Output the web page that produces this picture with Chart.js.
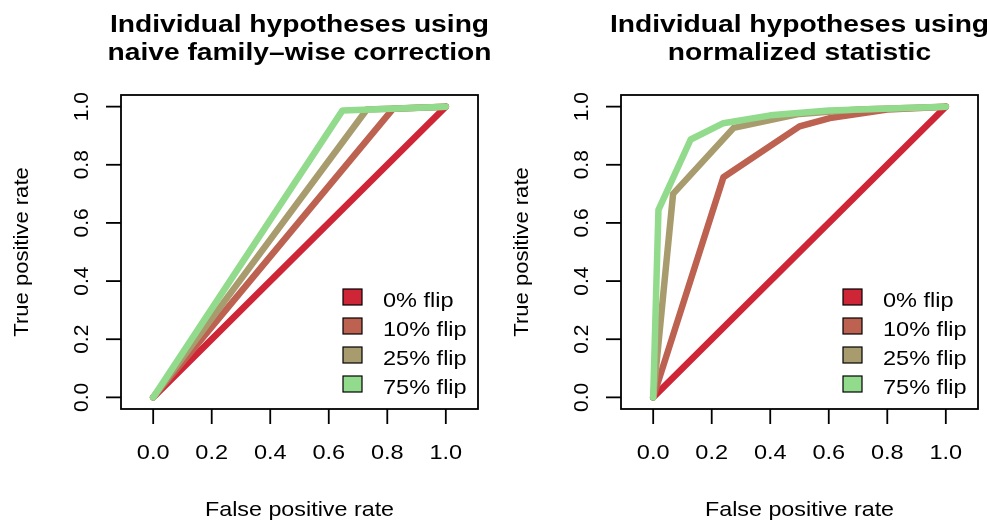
<!DOCTYPE html>
<html>
<head>
<meta charset="utf-8">
<script src="https://cdn.jsdelivr.net/npm/chart.js@4.4.1/dist/chart.umd.min.js"></script>
<style>
  html, body { margin: 0; padding: 0; background: #fff; overflow: hidden; }
  #wrap { position: relative; width: 987px; height: 522px; }
  canvas { position: absolute; top: 0; }
</style>
</head>
<body>
<div id="wrap">
  <canvas id="left" width="500" height="522" style="left:0"></canvas>
  <canvas id="right" width="487" height="522" style="left:500px"></canvas>
</div>
<script>
const seriesLabels = ["0% flip", "10% flip", "25% flip", "75% flip"];
const seriesColors = ["#CF2637", "#BD6151", "#A89C6E", "#92DB8D"];
const tickValues = [0, 0.2, 0.4, 0.6, 0.8, 1.0];
const tickLabels = ["0.0", "0.2", "0.4", "0.6", "0.8", "1.0"];

// left panel: naive family-wise correction
const naive0Fpr = [0, 1];
const naive0Tpr = [0, 1];
const naive10Fpr = [0, 0.82, 1];
const naive10Tpr = [0, 0.993, 1];
const naive25Fpr = [0, 0.73, 1];
const naive25Tpr = [0, 0.99, 1];
const naive75Fpr = [0, 0.647, 1];
const naive75Tpr = [0, 0.987, 1];

// right panel: normalized statistic
const norm0Fpr = [0, 1];
const norm0Tpr = [0, 1];
const norm10Fpr = [0, 0.24, 0.5, 0.61, 0.8, 1];
const norm10Tpr = [0, 0.757, 0.932, 0.962, 0.99, 1];
const norm25Fpr = [0, 0.068, 0.275, 0.5, 0.7, 1];
const norm25Tpr = [0, 0.70, 0.927, 0.975, 0.99, 1];
const norm75Fpr = [0, 0.018, 0.128, 0.24, 0.4, 0.6, 1];
const norm75Tpr = [0, 0.645, 0.887, 0.943, 0.97, 0.987, 1];

const FONT = "'Liberation Sans', Arial, Helvetica, sans-serif";

// text with a horizontal stretch (the original png is a bit wider than tall)
function stretchText(ctx, text, x, y, sx, angle) {
  ctx.save();
  ctx.translate(x, y);
  if (angle) ctx.rotate(angle);
  ctx.scale(sx, 1);
  ctx.fillText(text, 0, 0);
  ctx.restore();
}

// base-R look: box, outside ticks, rotated y labels, legend inside
const rStyle = {
  id: "rStyle",
  afterDraw(chart, args, opts) {
    const ctx = chart.ctx;
    const a = chart.chartArea;
    const xs = chart.scales.x, ys = chart.scales.y;
    ctx.save();
    ctx.strokeStyle = "#000";
    ctx.fillStyle = "#000";
    ctx.lineWidth = 1.8;
    ctx.strokeRect(a.left, a.top, a.right - a.left, a.bottom - a.top);

    ctx.font = "21px " + FONT;
    ctx.textBaseline = "alphabetic";
    ctx.textAlign = "center";
    tickValues.forEach((v, i) => {
      const px = xs.getPixelForValue(v);
      ctx.beginPath();
      ctx.moveTo(px, a.bottom);
      ctx.lineTo(px, a.bottom + 15);
      ctx.stroke();
      stretchText(ctx, tickLabels[i], px, a.bottom + 50, 1.12);

      const py = ys.getPixelForValue(v);
      ctx.beginPath();
      ctx.moveTo(a.left, py);
      ctx.lineTo(a.left - 15, py);
      ctx.stroke();
      stretchText(ctx, tickLabels[i], a.left - 33, py, 1.0, -Math.PI / 2);
    });

    const cx = (a.left + a.right) / 2;
    const cy = (a.top + a.bottom) / 2;
    stretchText(ctx, "False positive rate", cx, 516, 1.11);
    stretchText(ctx, "True positive rate", 28, cy, 1.05, -Math.PI / 2);

    ctx.font = "bold 23.5px " + FONT;
    stretchText(ctx, opts.title[0], cx, 32, 1.2);
    stretchText(ctx, opts.title[1], cx, 60, 1.2);

    // legend
    ctx.font = "21px " + FONT;
    ctx.textAlign = "left";
    ctx.lineWidth = 1.2;
    chart.data.datasets.forEach((ds, i) => {
      const top = a.top + 194 + i * 29;
      ctx.fillStyle = ds.borderColor;
      ctx.fillRect(a.left + 222, top, 19, 16);
      ctx.strokeRect(a.left + 222, top, 19, 16);
      ctx.fillStyle = "#000";
      stretchText(ctx, ds.label, a.left + 262, top + 18, 1.12);
    });
    ctx.restore();
  }
};

function makeDatasets(fprs, tprs) {
  return fprs.map((fpr, k) => ({
    label: seriesLabels[k],
    data: fpr.map((x, i) => ({ x: x, y: tprs[k][i] })),
    borderColor: seriesColors[k],
    backgroundColor: seriesColors[k],
    borderWidth: 6.5,
    borderCapStyle: "round",
    borderJoinStyle: "round",
    pointRadius: 0,
    fill: false,
    tension: 0,
    clip: false,
    order: 3 - k
  }));
}

function makeChart(id, title, fprs, tprs, rightPad) {
  new Chart(document.getElementById(id), {
    type: "line",
    data: { datasets: makeDatasets(fprs, tprs) },
    options: {
      responsive: false,
      animation: false,
      devicePixelRatio: 1,
      layout: { padding: { left: 121, right: rightPad, top: 95, bottom: 113 } },
      scales: {
        x: { type: "linear", min: -0.11, max: 1.11, display: false },
        y: { type: "linear", min: -0.04, max: 1.04, display: false }
      },
      plugins: {
        legend: { display: false },
        tooltip: { enabled: false },
        rStyle: { title: title }
      }
    },
    plugins: [rStyle]
  });
}

makeChart("left", ["Individual hypotheses using", "naive family\u2013wise correction"],
  [naive0Fpr, naive10Fpr, naive25Fpr, naive75Fpr],
  [naive0Tpr, naive10Tpr, naive25Tpr, naive75Tpr], 22);

makeChart("right", ["Individual hypotheses using", "normalized statistic"],
  [norm0Fpr, norm10Fpr, norm25Fpr, norm75Fpr],
  [norm0Tpr, norm10Tpr, norm25Tpr, norm75Tpr], 9);
</script>
</body>
</html>
